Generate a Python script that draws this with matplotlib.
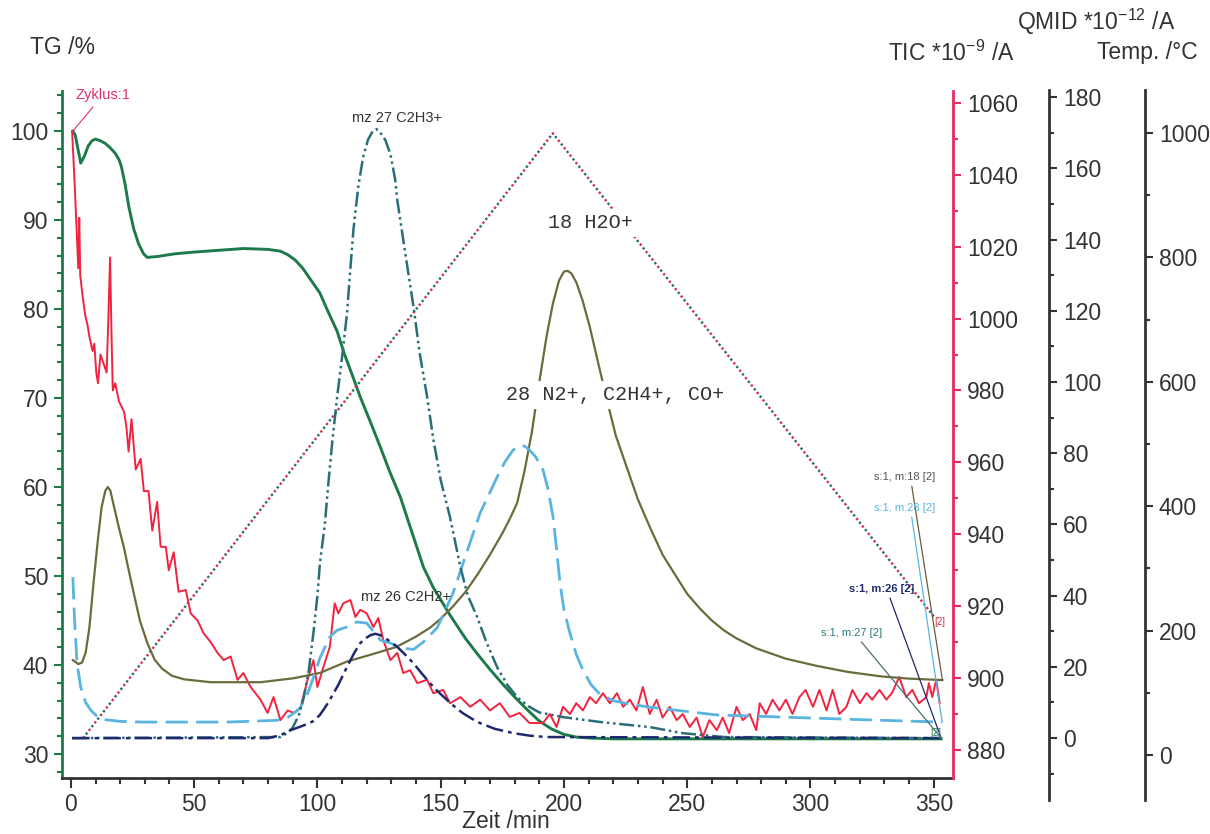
import matplotlib.pyplot as plt
from matplotlib.ticker import MultipleLocator

plt.rcParams["font.family"] = ["Liberation Sans", "DejaVu Sans"]
plt.rcParams["mathtext.default"] = "regular"

# ---- data (time in min) ----
time_tg = [0.8, 1.8, 3, 4, 5.5, 7, 8.5, 10, 12, 14, 16, 18, 19.5, 20.5, 22, 23.5, 25.5,
           27.5, 29.5, 31, 35, 42, 50, 60, 70, 80, 85, 88, 91, 94, 97, 101, 104, 108, 111,
           114.5, 117.4, 121.5, 125.5, 129.5, 133.6, 138, 143, 147, 153.8, 160, 165, 170,
           175, 180, 185, 190, 195, 200, 205, 210, 220, 240, 353]
tg = [100, 99.5, 97.8, 96.4, 97.2, 98.3, 98.9, 99.1, 98.9, 98.6, 98.1, 97.5, 96.8, 96,
      94, 91.5, 89, 87.3, 86.2, 85.8, 85.9, 86.2, 86.4, 86.6, 86.8, 86.7, 86.5, 86.1, 85.5,
      84.6, 83.4, 81.8, 79.9, 77.5, 74.9, 72.3, 70.1, 67.3, 64.5, 61.6, 58.9, 55.2, 51,
      48.7, 45.6, 43, 41.2, 39.5, 37.9, 36.4, 35, 33.7, 32.8, 32.2, 31.9, 31.8, 31.7, 31.7,
      31.7]

time_tic = [0.5, 1.5, 2.5, 3.0, 3.4, 3.8, 4.8, 5.8, 6.8, 7.5, 8.8, 9.5, 10.3, 11, 12, 13.5,
            14.5, 15.2, 15.9, 16.5, 17, 18, 19.5, 21.6, 22.5, 23.4, 24.6, 26.3, 28.3, 29.6,
            31.5, 33, 35, 36.4, 38.5, 39.7, 41.7, 43.7, 46.6, 48.6, 51.4, 53.8, 56.7, 59.5,
            62, 64.8, 67.6, 70, 72.9, 76.9, 79.8, 82.2, 85, 87.9, 90.3, 93, 96, 98.4, 100,
            102.4, 105, 107, 108.5, 110.5, 113.4, 115.4, 117.4, 120, 122.7, 124.7, 126.7,
            129.6, 132.4, 134.8, 137.6, 140.5, 144.5, 147, 151, 153.8, 158, 162, 166, 170,
            174, 178, 182, 186, 191.5, 194.3, 197, 199.6, 202.4, 205, 207.7, 210.5, 213,
            215.8, 218.6, 221.5, 224, 226.7, 229.4, 232, 234.8, 237.6, 240, 242.9, 245.7,
            248.2, 251, 253.8, 256.3, 259, 262, 264.4, 267, 270, 272.5, 275.3, 278, 279.4,
            282, 284.6, 287.4, 290, 292.7, 295.5, 298, 301, 303.6, 306.5, 309, 311.7, 314.6,
            317, 320, 322.7, 325, 328, 330.8, 333, 336, 338.8, 341.3, 344, 347, 348, 349.4,
            351, 352.4]
tic = [1052, 1038, 1022, 1014, 1028, 1012, 1006, 1001, 998, 995, 991, 993, 985, 982, 990,
       987, 985, 1000, 1017, 995, 980, 982, 977, 974, 970, 963, 972, 958, 961, 952, 952, 941,
       949, 936.5, 936.5, 930, 935, 924, 924.5, 918, 916, 912.5, 910, 907, 905, 906, 899.5,
       901.4, 897.5, 894, 890.3, 894.7, 888.3, 891, 890.3, 891.5, 899.5, 905, 897.5, 903,
       908.6, 920.8, 918, 920.8, 921.7, 917, 919, 918, 914.2, 916.7, 910.6, 905, 907, 901.4,
       902.2, 898.6, 899.5, 895.8, 896.7, 893, 894.7, 892, 894, 891, 893, 889.2, 890.3,
       887.5, 887.5, 890, 886.4, 892, 890, 893, 891, 894.7, 893, 895.8, 893, 895.8, 892, 894,
       891, 897.5, 890, 894, 889, 892, 888.3, 890, 886.4, 889, 883.6, 888.3, 885.5, 889,
       884.7, 892, 888.3, 890, 885.5, 893, 890, 894, 891, 894, 890, 894.7, 896.7, 892, 896.7,
       891, 896.7, 890, 892, 896.7, 893, 895.8, 894, 896.7, 894, 895.8, 900.3, 894.7, 896.7,
       893, 894.7, 898.6, 894.7, 899.5, 893]

time_m18 = [0.8, 3, 4.5, 6, 7.5, 9.3, 11, 12.5, 14, 15, 16, 17.5, 19.5, 21.5, 23.5, 25.5,
            28, 31, 34, 37, 41, 46, 56.7, 77, 90.3, 101, 112, 122, 132, 140, 145.7, 150, 155,
            160, 165, 170, 175, 178, 181, 184, 187, 190, 193, 195.5, 198, 200, 201.5, 203,
            205, 207.5, 210.5, 214, 217.4, 221, 225.5, 230, 234.8, 240, 245.7, 250, 255, 260,
            265, 270, 278, 290, 302.4, 315, 329, 340, 353.5]
m18 = [21.9, 20.8, 21.2, 24, 31, 44.4, 56, 65, 69.5, 70.5, 69.5, 65, 59, 53.6, 47, 40.7,
       33, 26.7, 22, 19.5, 17.5, 16.5, 15.7, 15.7, 16.8, 18.3, 21.5, 23.5, 25.6, 28.5, 31,
       33.5, 37, 41, 46, 51.5, 57.5, 61.5, 66, 75, 86, 100, 113, 122, 128.5, 131, 131.2,
       130.5, 128, 123, 115.4, 105, 95, 85, 76, 67, 59.3, 51.5, 45.2, 40.5, 36.5, 33, 30.2,
       28, 25.2, 22.3, 20.3, 18.6, 17.3, 16.7, 16.3]

time_m28 = [0.8, 1.5, 2.5, 4, 6, 8, 10.5, 13.5, 20, 29.5, 63.4, 83.7, 88, 91, 93, 96, 98.4,
            101, 105, 108, 112, 116, 120, 125.5, 129.6, 134, 139, 143, 148.6, 155, 160, 166,
            172.9, 176, 179.4, 182, 184, 186, 188.5, 191.5, 193.5, 195.6, 197, 198.4, 200,
            202.4, 205, 207.7, 211, 214.6, 220, 227, 234.8, 262, 302, 329, 353.4]
m28 = [45.2, 33, 21, 14.3, 10, 7.9, 6.2, 5.2, 4.7, 4.5, 4.5, 5, 5.8, 7.3, 8.5, 12.5, 17,
       22.5, 28.4, 30.3, 31.2, 32.6, 32.3, 27.5, 26.7, 25.3, 24.9, 27, 31, 40.7, 51, 63.2,
       73.3, 77.5, 80.9, 82, 82, 80.9, 79, 75.3, 70, 62, 53, 43.5, 36, 29.5, 23.5, 19.1, 15,
       12.3, 10.5, 9.5, 8.7, 6.5, 5.6, 5, 4.5]

time_m27 = [0.5, 85, 88, 90, 92.5, 94.5, 96.5, 98.5, 100, 101, 103, 104.5, 106, 108, 110,
            112, 113.5, 114.6, 116.6, 118.5, 120.5, 122.5, 124, 125.5, 127.5, 129.6, 131.5,
            132.4, 134.8, 137, 139, 141.5, 144.5, 147, 150, 153.8, 158, 161, 164.8, 168.5,
            172.9, 177, 181, 185.5, 190, 199.6, 215, 234.8, 248, 265, 353]
m27 = [0, 0.3, 1.5, 3, 6.5, 11.5, 19, 30.3, 40, 49, 60, 72, 83, 95.8, 107, 119.3, 133,
       142.7, 155, 163, 168, 170.5, 171, 170, 168, 164, 157, 151, 140, 130, 121, 108, 95.8,
       84, 72.5, 62, 48, 40, 34, 27, 19.9, 15, 11.5, 9, 7.2, 5.9, 4.5, 3.1, 1.4, 0.3, 0]

time_m26 = [0.5, 80, 85, 89, 93, 96, 98.4, 101, 103, 105, 108.5, 112, 115, 117.4, 119.5,
            121.5, 123.5, 125.5, 128.5, 132.4, 135.5, 139, 142.5, 145.7, 149, 152.6, 156,
            159, 162.5, 166, 172, 179.4, 186, 193, 353]
m26 = [0, 0, 0.8, 2.2, 3.2, 4, 4.8, 6.5, 8.5, 10.7, 15, 20, 24, 26.7, 28, 28.9, 29.3, 28.9,
       27.6, 25.6, 23.5, 21, 18, 15.4, 13, 10.7, 8.6, 7, 5.5, 4.2, 2.6, 1.4, 0.7, 0.3, 0]

time_temp = [4.9, 195.5, 350.2]
temp = [27, 1000, 222]

# ---- figure ----
W, H = 1210, 834
fig = plt.figure(figsize=(12.1, 8.34), dpi=100)


def box(x0, y0, x1, y1):
    return [x0 / W, 1 - y1 / H, (x1 - x0) / W, (y1 - y0) / H]


def fpos(x, y):
    return (x / W, 1 - y / H)


GREEN = "#1d7a4b"
RED_AX = "#e52b5f"
DARK = "#333333"
FS = 16.5

ax = fig.add_axes(box(62, 91, 953, 778))
ax_tic = ax.twinx()
ax_temp = ax.twinx()
ax_ms = ax.twinx()

ax.set_xlim(-3.6, 357.8)
ax.set_ylim(27.3, 104.5)
ax_tic.set_ylim(872.2, 1063.3)
ax_temp.set_ylim(-37, 1068)
ax_ms.set_ylim(-11.2, 181.7)

ax.plot(time_tg, tg, color=GREEN, lw=2.1)
ax_tic.plot(time_tic, tic, color="#f2233f", lw=1.4)
ax_temp.plot(time_temp, temp, color="#d9304f", lw=1.7, ls=(0, (1, 3)))
ax_temp.plot(time_temp, temp, color="#2a6d6a", lw=1.7, ls=(2, (1, 3)))
ax_ms.plot(time_m18, m18, color="#6b6b3c", lw=1.6)
ax_ms.plot(time_m28, m28, color="#5ab4e0", lw=2.0, ls=(0, (8, 3)))
ax_ms.plot(time_m27, m27, color="#2a6e78", lw=1.8, ls=(0, (6, 1.5, 1, 1.5, 1, 1.5)))
ax_ms.plot(time_m26, m26, color="#1f2a6e", lw=1.8, ls=(0, (7, 2, 1.5, 2)))

# main axes styling
for s in ["top", "right"]:
    ax.spines[s].set_visible(False)
ax.spines["left"].set_color(GREEN)
ax.spines["left"].set_linewidth(2)
ax.spines["bottom"].set_color(DARK)
ax.spines["bottom"].set_linewidth(2)
ax.set_xticks(range(0, 351, 50))
ax.xaxis.set_minor_locator(MultipleLocator(10))
ax.set_yticks(range(30, 101, 10))
ax.yaxis.set_minor_locator(MultipleLocator(2))
ax.tick_params(axis="x", which="both", direction="out", color=DARK, labelcolor=DARK,
               labelsize=FS, width=1.5, pad=4)
ax.tick_params(axis="x", which="major", length=7)
ax.tick_params(axis="x", which="minor", length=4)
ax.tick_params(axis="y", which="both", direction="out", color=GREEN, labelcolor=DARK,
               labelsize=FS, width=1.5, pad=4)
ax.tick_params(axis="y", which="major", length=6)
ax.tick_params(axis="y", which="minor", length=3.5)

for s in ["top", "left", "bottom"]:
    ax_tic.spines[s].set_visible(False)
ax_tic.spines["right"].set_color(RED_AX)
ax_tic.spines["right"].set_linewidth(2)
ax_tic.set_yticks(range(880, 1061, 20))
ax_tic.yaxis.set_minor_locator(MultipleLocator(10))
ax_tic.tick_params(axis="y", which="both", direction="out", color=RED_AX, labelcolor=DARK,
                   labelsize=FS, width=1.5, pad=4)
ax_tic.tick_params(axis="y", which="major", length=6)
ax_tic.tick_params(axis="y", which="minor", length=3.5)

for a in (ax_temp, ax_ms):
    for s in a.spines.values():
        s.set_visible(False)
    a.set_yticks([])

# separate scale axes for QMID and temperature
ax_q = fig.add_axes(box(1048, 90, 1049, 800))
ax_q.set_ylim(-17.4, 182)
ax_temp_scale = fig.add_axes(box(1144, 90, 1145, 800))
ax_temp_scale.set_ylim(-72.3, 1069)
for a, major, minor in ((ax_q, 20, 10), (ax_temp_scale, 200, 100)):
    a.patch.set_visible(False)
    for s in ["top", "left", "bottom"]:
        a.spines[s].set_visible(False)
    a.spines["right"].set_color(DARK)
    a.spines["right"].set_linewidth(2)
    a.set_xticks([])
    a.yaxis.tick_right()
    a.yaxis.set_major_locator(MultipleLocator(major))
    a.yaxis.set_minor_locator(MultipleLocator(minor))
    a.tick_params(axis="y", which="both", direction="out", color=DARK, labelcolor=DARK,
                  labelsize=FS, width=1.5, pad=4)
    a.tick_params(axis="y", which="major", length=6)
    a.tick_params(axis="y", which="minor", length=3.5)
ax_q.set_yticks(range(0, 181, 20))
ax_temp_scale.set_yticks(range(0, 1001, 200))

# axis titles
fig.text(*fpos(30, 48), "TG /%", fontsize=FS, color=DARK, ha="left", va="center")
fig.text(*fpos(1015, 53), "TIC *10$^{-9}$ /A", fontsize=FS, color=DARK, ha="right", va="center")
fig.text(*fpos(1175, 22), "QMID *10$^{-12}$ /A", fontsize=FS, color=DARK, ha="right", va="center")
fig.text(*fpos(1198, 53), "Temp. /°C", fontsize=FS, color=DARK, ha="right", va="center")
fig.text(*fpos(506, 822), "Zeit /min", fontsize=FS, color=DARK, ha="center", va="center")

# annotations
ax.annotate("Zyklus:1", xy=(time_tg[0], tg[0]), xytext=fpos(103, 95),
            textcoords="figure fraction", fontsize=10.5, color="#e0306a", ha="center",
            va="center", arrowprops=dict(arrowstyle="-", color="#e0306a", lw=0.8,
                                         shrinkA=2, shrinkB=0))
ax_ms.text(*fpos(397, 118), "mz 27 C2H3+", transform=fig.transFigure, fontsize=10.5,
           color=DARK, ha="center", va="center")
ax_ms.text(*fpos(406, 597), "mz 26 C2H2+", transform=fig.transFigure, fontsize=10.5,
           color=DARK, ha="center", va="center")
mono = dict(family=["Liberation Mono", "DejaVu Sans Mono"], fontsize=14.5, color=DARK,
            ha="center", va="center", transform=fig.transFigure,
            bbox=dict(facecolor="white", edgecolor="none", pad=3))
ax_ms.text(*fpos(590, 223), "18 H2O+", **mono)
ax_ms.text(*fpos(615, 395), "28 N2+, C2H4+, CO+", **mono)

leaders = [
    ("s:1, m:18 [2]", (905, 477), time_m18, m18, "#555555", "#6b5a3a", "normal"),
    ("s:1, m:28 [2]", (905, 508), time_m28, m28, "#5ab4e0", "#5ab4e0", "normal"),
    ("s:1, m:26 [2]", (882, 589), time_m26, m26, "#1f2a6e", "#1f2a6e", "bold"),
    ("s:1, m:27 [2]", (852, 633), time_m27, m27, "#2a7a7a", "#4a7070", "normal"),
]
for label, pos, tx, ty, tcol, lcol, weight in leaders:
    ax_ms.annotate(label, xy=(tx[-1], ty[-1]), xytext=fpos(*pos), textcoords="figure fraction",
                   fontsize=8, color=tcol, fontweight=weight, ha="center", va="center",
                   arrowprops=dict(arrowstyle="-", color=lcol, lw=0.9, shrinkA=1, shrinkB=0,
                                   relpos=(0.6, 0.0)))

ax_temp.text(time_temp[-1], temp[-1], "[2]", fontsize=7, color="#d9304f", ha="left", va="top")
ax_ms.text(time_m27[-1], m27[-1], "[2]", fontsize=7, color="#2a7a5a", ha="right", va="bottom")

fig.savefig("out.png", dpi=100)
